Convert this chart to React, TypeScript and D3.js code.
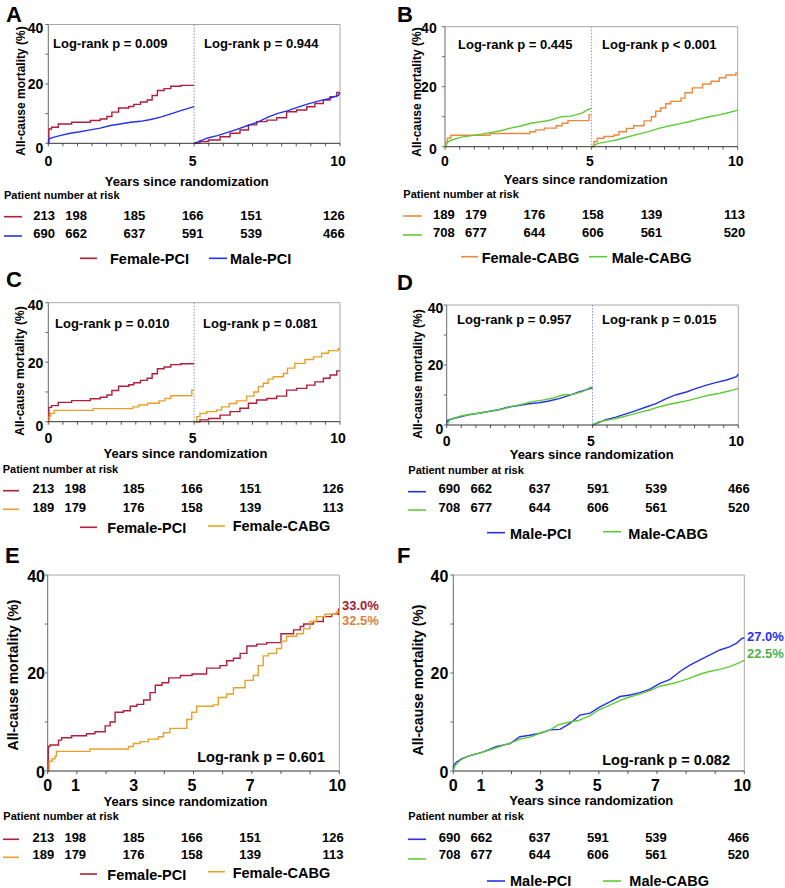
import React from 'react';
import * as d3 from 'd3';

type Pt = [number, number];

const riskTimes = [0, 1, 3, 5, 7, 10];
const femalePCIRisk = [213, 198, 185, 166, 151, 126];
const malePCIRisk = [690, 662, 637, 591, 539, 466];
const femaleCABGRisk = [189, 179, 176, 158, 139, 113];
const maleCABGRisk = [708, 677, 644, 606, 561, 520];

const femalePCIEarly: Pt[] = [[0,0],[0.02,4.8],[0.11,5.4],[0.34,6.5],[0.8,7.1],[1.44,7.7],[1.78,8.2],[2.01,9.0],[2.18,10.5],[2.41,11.9],[2.76,12.4],[2.93,13.1],[3.16,13.9],[3.39,14.6],[3.56,16.1],[3.74,17.8],[3.97,18.4],[4.2,19.2],[4.54,19.5],[5,19.5]];
const femalePCILate: Pt[] = [[5,0],[5.2,0.6],[5.49,1.1],[5.89,2.2],[6.23,3.4],[6.57,4.5],[6.86,6.2],[7.14,7.3],[7.49,7.8],[7.83,8.6],[8.17,10.6],[8.51,11.2],[8.86,12.3],[9.14,13.4],[9.43,14.6],[9.66,15.7],[9.89,17.1],[10,17.1]];
const femalePCIFull: Pt[] = [[0,0],[0.02,5.0],[0.08,5.3],[0.37,6.3],[0.48,6.8],[0.82,7.2],[1.33,7.6],[1.62,8.0],[1.97,9.2],[2.14,10],[2.31,12],[2.6,12.3],[2.83,13.2],[3.06,13.6],[3.29,14.5],[3.51,16],[3.69,17.5],[3.92,18],[4.15,19],[4.55,19.5],[4.95,19.8],[5.45,21],[5.91,21.5],[6.14,22.5],[6.37,23],[6.6,24],[6.83,25.5],[7.17,25.9],[7.51,26.2],[8.0,28],[8.43,28.8],[8.66,29.5],[8.78,30],[9.11,30.5],[9.45,31.5],[9.74,32],[9.97,33],[10,33]];

const femaleCABGEarly: Pt[] = [[0,0],[0.03,1.7],[0.08,2.8],[0.2,3.8],[1.54,4.4],[2.9,5.0],[3.1,5.6],[3.4,6.2],[3.8,7.0],[4.0,7.8],[4.2,8.7],[4.92,10.6],[5,10.6]];
const femaleCABGLate: Pt[] = [[5,0],[5.09,1.7],[5.2,2.8],[5.43,3.4],[5.77,3.9],[5.94,5.0],[6.2,6.1],[6.45,7.0],[6.8,8.6],[7.05,10.0],[7.2,11.8],[7.37,12.9],[7.54,14.3],[7.71,15.1],[8.06,16.2],[8.2,18.0],[8.45,19.6],[8.8,20.9],[9.09,21.8],[9.37,23.0],[9.6,23.9],[9.94,24.6],[10,24.6]];
const femaleCABGFull: Pt[] = [[0,0],[0.05,2],[0.15,2.5],[0.25,3],[0.3,4],[1.45,4.5],[2.77,5],[2.94,5.6],[3.17,6],[3.45,6.5],[3.8,7],[3.97,7.8],[4.19,8.7],[4.77,10.5],[4.94,12],[5.11,13.2],[5.68,13.5],[5.85,15],[6.14,15.7],[6.37,17],[6.77,18.5],[7.05,19.5],[7.22,21.5],[7.39,23.5],[7.57,24],[7.85,25],[8.02,26.5],[8.19,27.5],[8.54,28],[8.77,29],[8.99,30.5],[9.22,31.5],[9.51,32],[9.9,32.5],[10,32.5]];

const malePCIEarly: Pt[] = [[0,0],[0.02,1.5],[0.17,2.0],[0.4,2.6],[0.75,3.4],[1.09,3.9],[1.44,4.5],[1.78,5.1],[2.13,6.0],[2.47,6.5],[2.82,7.1],[3.16,7.4],[3.51,8.0],[3.85,8.8],[4.2,9.9],[4.54,11.0],[4.94,12.2],[5,12.3]];
const malePCILate: Pt[] = [[5,0],[5.23,0.9],[5.46,1.8],[5.8,2.6],[6.15,3.7],[6.49,4.8],[6.84,6.0],[7.18,7.1],[7.53,8.8],[7.87,10.1],[8.22,11.0],[8.56,12.2],[8.91,13.3],[9.25,14.2],[9.6,15.0],[9.94,16.1],[10,17.0]];
const malePCIFull: Pt[] = [[0,0],[0.01,1.0],[0.1,1.8],[0.3,2.5],[0.5,3.0],[1.03,3.9],[1.49,5.0],[1.95,5.6],[2.29,7.0],[2.63,7.3],[2.98,7.7],[3.32,8.4],[3.67,8.5],[4.01,9.7],[4.35,11.4],[4.7,11.8],[5.04,13.1],[5.38,14.1],[5.73,15.2],[6.07,15.5],[6.41,16.0],[6.76,16.7],[7.1,17.9],[7.45,18.7],[7.79,20.3],[8.13,21.6],[8.48,22.7],[8.82,23.7],[9.16,24.7],[9.51,25.4],[9.74,26.1],[9.91,27.0],[10,27.2]];

const maleCABGEarly: Pt[] = [[0,0],[0.11,1.7],[0.29,2.4],[0.52,3.1],[0.86,3.6],[1.21,4.1],[1.55,4.7],[1.9,5.3],[2.24,6.2],[2.59,6.9],[2.93,7.8],[3.28,8.3],[3.62,8.9],[3.97,10.0],[4.31,10.2],[4.66,11.1],[4.89,12.4],[5,12.8]];
const maleCABGLate: Pt[] = [[5,0],[5.23,1.1],[5.57,1.7],[5.92,2.4],[6.26,3.3],[6.61,4.2],[6.95,5.0],[7.3,6.1],[7.64,6.9],[7.99,7.6],[8.33,8.3],[8.68,9.2],[9.02,10.0],[9.37,10.6],[9.71,11.4],[10,12.2]];
const maleCABGFull: Pt[] = [[0,0],[0.05,1.0],[0.2,2.0],[0.4,2.8],[0.7,3.4],[1.0,3.8],[1.5,4.8],[2.0,5.8],[2.3,6.5],[2.7,7.0],[3.0,7.8],[3.3,8.3],[3.6,9.4],[4.0,10.0],[4.3,10.3],[4.7,11.3],[5.0,12.5],[5.4,13.5],[5.7,14.3],[6.0,15.0],[6.4,15.7],[6.8,16.5],[7.1,17.3],[7.5,17.8],[7.8,18.3],[8.1,18.9],[8.5,19.8],[8.8,20.3],[9.2,20.8],[9.5,21.3],[9.8,22.0],[10,22.6]];

const yTickValues = [0, 10, 20, 30, 40];
const yTickLabels = [0, 20, 40];

const FONT = "'Liberation Sans', Arial, Helvetica, sans-serif";

const C_FPCI = '#b01e3a';
const C_MPCI = '#2433e8';
const C_FCABG_B = '#ec8a3c';
const C_FCABG = '#e8a128';
const C_MCABG = '#5fcb35';

const fPCI = { name: 'Female-PCI', color: C_FPCI, risk: femalePCIRisk, early: femalePCIEarly, late: femalePCILate, full: femalePCIFull, step: true };
const mPCI = { name: 'Male-PCI', color: C_MPCI, risk: malePCIRisk, early: malePCIEarly, late: malePCILate, full: malePCIFull, step: false };
const fCABGB = { name: 'Female-CABG', color: C_FCABG_B, risk: femaleCABGRisk, early: femaleCABGEarly, late: femaleCABGLate, full: femaleCABGFull, step: true };
const fCABG = { name: 'Female-CABG', color: C_FCABG, risk: femaleCABGRisk, early: femaleCABGEarly, late: femaleCABGLate, full: femaleCABGFull, step: true };
const mCABG = { name: 'Male-CABG', color: C_MCABG, risk: maleCABGRisk, early: maleCABGEarly, late: maleCABGLate, full: maleCABGFull, step: false };

const panels: any[] = [
  {
    letter: 'A', lx: 6, ly: 21.7, x0: 48.3, x1: 340, yT: 24.5, yB: 143.3, landmark: true,
    tickFs: 14, ytFs: 12, yTitle: [21, 91], ylabX: 43.3, yOff: [3.5, 0, 4.5],
    xTicks: [0, 5, 10], xMinor: 0.5, xLabY: 166, xTitle: [186.8, 186],
    riskTitle: [4, 199], rowY: [220, 238.3], markX: [4, 22], markY: [216.7, 236], riskShift: -1.4,
    legend: [[80, 97, 258.3, 110, 264], [209, 227, 258.3, 230, 264]],
    logrank: [{ t: 'Log-rank p = 0.009', x: 53, y: 47.5, a: 'start' }, { t: 'Log-rank p = 0.944', x: 204, y: 47.5, a: 'start' }],
    lrFs: 13, groups: [fPCI, mPCI], ends: [],
  },
  {
    letter: 'B', lx: 397, ly: 22, x0: 445, x1: 737.7, yT: 26.7, yB: 146.7, landmark: true,
    tickFs: 14, ytFs: 12, yTitle: [416.5, 92], ylabX: 436.7, yOff: [1.5, 0, 2.5],
    xTicks: [0, 5, 10], xMinor: 0.5, xLabY: 165.7, xTitle: [585.7, 184.3],
    riskTitle: [403.3, 198.3], rowY: [219, 236.7], markX: [403, 422], markY: [216, 235], riskShift: 1.6,
    legend: [[461, 478, 256.7, 481.7, 263], [589, 607, 256.7, 611.7, 263]],
    logrank: [{ t: 'Log-rank p = 0.445', x: 458, y: 49.3, a: 'start' }, { t: 'Log-rank p < 0.001', x: 602, y: 49.3, a: 'start' }],
    lrFs: 13, groups: [fCABGB, mCABG], ends: [],
  },
  {
    letter: 'C', lx: 6, ly: 287, x0: 48.3, x1: 340, yT: 302.7, yB: 421.7, landmark: true,
    tickFs: 14, ytFs: 12, yTitle: [19.5, 371], ylabX: 43.3, yOff: [2.5, 1, 4],
    xTicks: [0, 5, 10], xMinor: 0.5, xLabY: 443.3, xTitle: [185.5, 458.3],
    riskTitle: [2.7, 473.3], rowY: [493.3, 511.7], markX: [3, 19], markY: [490.7, 509.3], riskShift: -2.2,
    legend: [[80, 97, 527.3, 107.3, 533.3], [208, 225, 526, 232.7, 530.7]],
    logrank: [{ t: 'Log-rank p = 0.010', x: 55, y: 328.3, a: 'start' }, { t: 'Log-rank p = 0.081', x: 203, y: 328.3, a: 'start' }],
    lrFs: 13, groups: [fPCI, fCABG], ends: [],
  },
  {
    letter: 'D', lx: 397, ly: 290, x0: 446.7, x1: 738.3, yT: 305, yB: 425, landmark: true,
    tickFs: 14, ytFs: 12, yTitle: [418, 374], ylabX: 443.3, yOff: [3.3, 0, 4],
    xTicks: [0, 5, 10], xMinor: 0.5, xLabY: 445.8, xTitle: [591.7, 459.3],
    riskTitle: [408.3, 473.8], rowY: [493.3, 511.7], markX: [408, 426], markY: [491.7, 510], riskShift: 5.4,
    legend: [[487, 505, 532.7, 510, 539.3], [603, 621, 531.7, 628.3, 539.3]],
    logrank: [{ t: 'Log-rank p = 0.957', x: 457, y: 324.3, a: 'start' }, { t: 'Log-rank p = 0.015', x: 602, y: 324.3, a: 'start' }],
    lrFs: 13, groups: [mPCI, mCABG], ends: [],
  },
  {
    letter: 'E', lx: 5, ly: 563, x0: 47.7, x1: 339.3, yT: 575, yB: 771, landmark: false,
    tickFs: 16, ytFs: 14, yTitle: [12.5, 675], ylabX: 45, yOff: [1.7, 0, 1.7],
    xTicks: [0, 1, 3, 5, 7, 10], xMinor: 1, xLabY: 790.7, xTitle: [185.5, 806],
    riskTitle: [3.3, 820], rowY: [841.7, 859.3], markX: [3, 19], markY: [839.3, 857.3], riskShift: -1.6,
    legend: [[80, 97, 874, 107.3, 880], [208, 225, 871.7, 232.7, 878.3]],
    logrank: [{ t: 'Log-rank p = 0.601', x: 325, y: 762, a: 'end' }],
    lrFs: 14.5, groups: [fPCI, fCABG],
    ends: [{ t: '33.0%', x: 342, y: 610, c: '#a8182c' }, { t: '32.5%', x: 342, y: 625, c: '#d9833a' }],
  },
  {
    letter: 'F', lx: 397, ly: 563, x0: 453.3, x1: 744.3, yT: 575, yB: 771, landmark: false,
    tickFs: 16, ytFs: 14, yTitle: [418, 680], ylabX: 448.3, yOff: [1.7, 0, 1.7],
    xTicks: [0, 1, 3, 5, 7, 10], xMinor: 1, xLabY: 790.7, xTitle: [591.3, 805],
    riskTitle: [408.3, 820], rowY: [841.7, 859.3], markX: [408, 426], markY: [839.3, 859], riskShift: -1,
    legend: [[487, 505, 881, 510, 886], [603, 621, 881, 629.3, 886]],
    logrank: [{ t: 'Log-rank p = 0.082', x: 730, y: 765, a: 'end' }],
    lrFs: 14.5, groups: [mPCI, mCABG],
    ends: [{ t: '27.0%', x: 747, y: 640.7, c: '#2a2ef0' }, { t: '22.5%', x: 747, y: 658, c: '#4db04a' }],
  },
];

function Panel({ p }: { p: any }) {
  const x = d3.scaleLinear().domain([0, 10]).range([p.x0, p.x1]);
  const y = d3.scaleLinear().domain([0, 40]).range([p.yB, p.yT]);
  const minor = d3.range(0, 10 + 1e-9, p.xMinor);
  const mk = (step: boolean) =>
    d3.line<Pt>().x((d) => x(d[0])).y((d) => y(d[1])).curve(step ? d3.curveStepAfter : d3.curveLinear);

  const curves: any[] = [];
  p.groups.forEach((g: any, gi: number) => {
    const gen = mk(g.step);
    const sets = p.landmark ? [g.early, g.late] : [g.full];
    sets.forEach((s: Pt[], si: number) => {
      curves.push(
        <path key={`c${gi}-${si}`} d={gen(s) || ''} fill="none" stroke={g.color} strokeWidth={1.4} strokeLinejoin="miter" />
      );
    });
  });

  const yOffFor = (v: number) => (v === 40 ? p.yOff[0] : v === 20 ? p.yOff[1] : p.yOff[2]);
  const riskX = (t: number, i: number) => x(t) + p.riskShift + (i === 0 ? -2.7 : i === riskTimes.length - 1 ? -4.8 : 0);

  return (
    <g fontFamily={FONT} fontWeight="bold">
      <text x={p.lx} y={p.ly} fontSize={22} fill="#000">{p.letter}</text>
      <line x1={p.x0} x2={p.x1} y1={p.yT} y2={p.yT} stroke="#a8a8a8" strokeWidth={1} />
      <line x1={p.x1} x2={p.x1} y1={p.yT} y2={p.yB} stroke="#a8a8a8" strokeWidth={1} />
      <line x1={p.x0} x2={p.x0} y1={p.yT} y2={p.yB} stroke="#6a6a6a" strokeWidth={1} />
      {yTickValues.map((v) => (
        <line key={`yt${v}`} x1={p.x0 - 3} x2={p.x0} y1={y(v)} y2={y(v)} stroke="#6a6a6a" strokeWidth={1} />
      ))}
      {minor.map((v) => (
        <line key={`xt${v}`} x1={x(v)} x2={x(v)} y1={p.yB} y2={p.yB + 3} stroke="#444" strokeWidth={0.9} />
      ))}
      {p.landmark && (
        <line x1={x(5)} x2={x(5)} y1={p.yT} y2={p.yB} stroke="#7f8ab8" strokeWidth={0.9} strokeDasharray="1.5 1.5" />
      )}
      {curves}
      <line x1={p.x0} x2={p.x1} y1={p.yB} y2={p.yB} stroke="#333" strokeWidth={1} />
      {yTickLabels.map((v) => (
        <text key={`yl${v}`} x={p.ylabX} y={y(v) + yOffFor(v)} fontSize={p.tickFs} textAnchor="end" dominantBaseline="central" fill="#000">{v}</text>
      ))}
      {p.xTicks.map((v: number) => (
        <text key={`xl${v}`} x={x(v) + (v === 10 ? -2 : v === 0 ? 0 : -1.5)} y={p.xLabY} fontSize={p.tickFs} textAnchor="middle" fill="#000">{v}</text>
      ))}
      <text transform={`translate(${p.yTitle[0] + p.ytFs * 0.36},${p.yTitle[1]}) rotate(-90)`} fontSize={p.ytFs} textAnchor="middle" fill="#000">All-cause mortality (%)</text>
      <text x={p.xTitle[0]} y={p.xTitle[1]} fontSize={13} textAnchor="middle" fill="#000">Years since randomization</text>
      {p.logrank.map((l: any, i: number) => (
        <text key={`lr${i}`} x={l.x} y={l.y} fontSize={p.lrFs} textAnchor={l.a} fill="#000">{l.t}</text>
      ))}
      {p.ends.map((e: any, i: number) => (
        <text key={`e${i}`} x={e.x} y={e.y} fontSize={13} fill={e.c}>{e.t}</text>
      ))}
      <text x={p.riskTitle[0]} y={p.riskTitle[1]} fontSize={11} fill="#000">Patient number at risk</text>
      {p.groups.map((g: any, gi: number) => (
        <g key={`r${gi}`}>
          <line x1={p.markX[0]} x2={p.markX[1]} y1={p.markY[gi]} y2={p.markY[gi]} stroke={g.color} strokeWidth={1.6} />
          {g.risk.map((n: number, i: number) => (
            <text key={`n${i}`} x={riskX(riskTimes[i], i)} y={p.rowY[gi]} fontSize={13} textAnchor="middle" fill="#000">{n}</text>
          ))}
        </g>
      ))}
      {p.groups.map((g: any, gi: number) => {
        const L = p.legend[gi];
        return (
          <g key={`lg${gi}`}>
            <line x1={L[0]} x2={L[1]} y1={L[2]} y2={L[2]} stroke={g.color} strokeWidth={1.6} />
            <text x={L[3]} y={L[4]} fontSize={14.5} fill="#000">{g.name}</text>
          </g>
        );
      })}
    </g>
  );
}

export default function App() {
  return (
    <svg width={785} height={888} viewBox="0 0 785 888" style={{ position: 'absolute', left: 0, top: 0, background: '#fff' }}>
      <rect x={0} y={0} width={785} height={888} fill="#fff" />
      {panels.map((p, i) => (
        <Panel key={i} p={p} />
      ))}
    </svg>
  );
}
